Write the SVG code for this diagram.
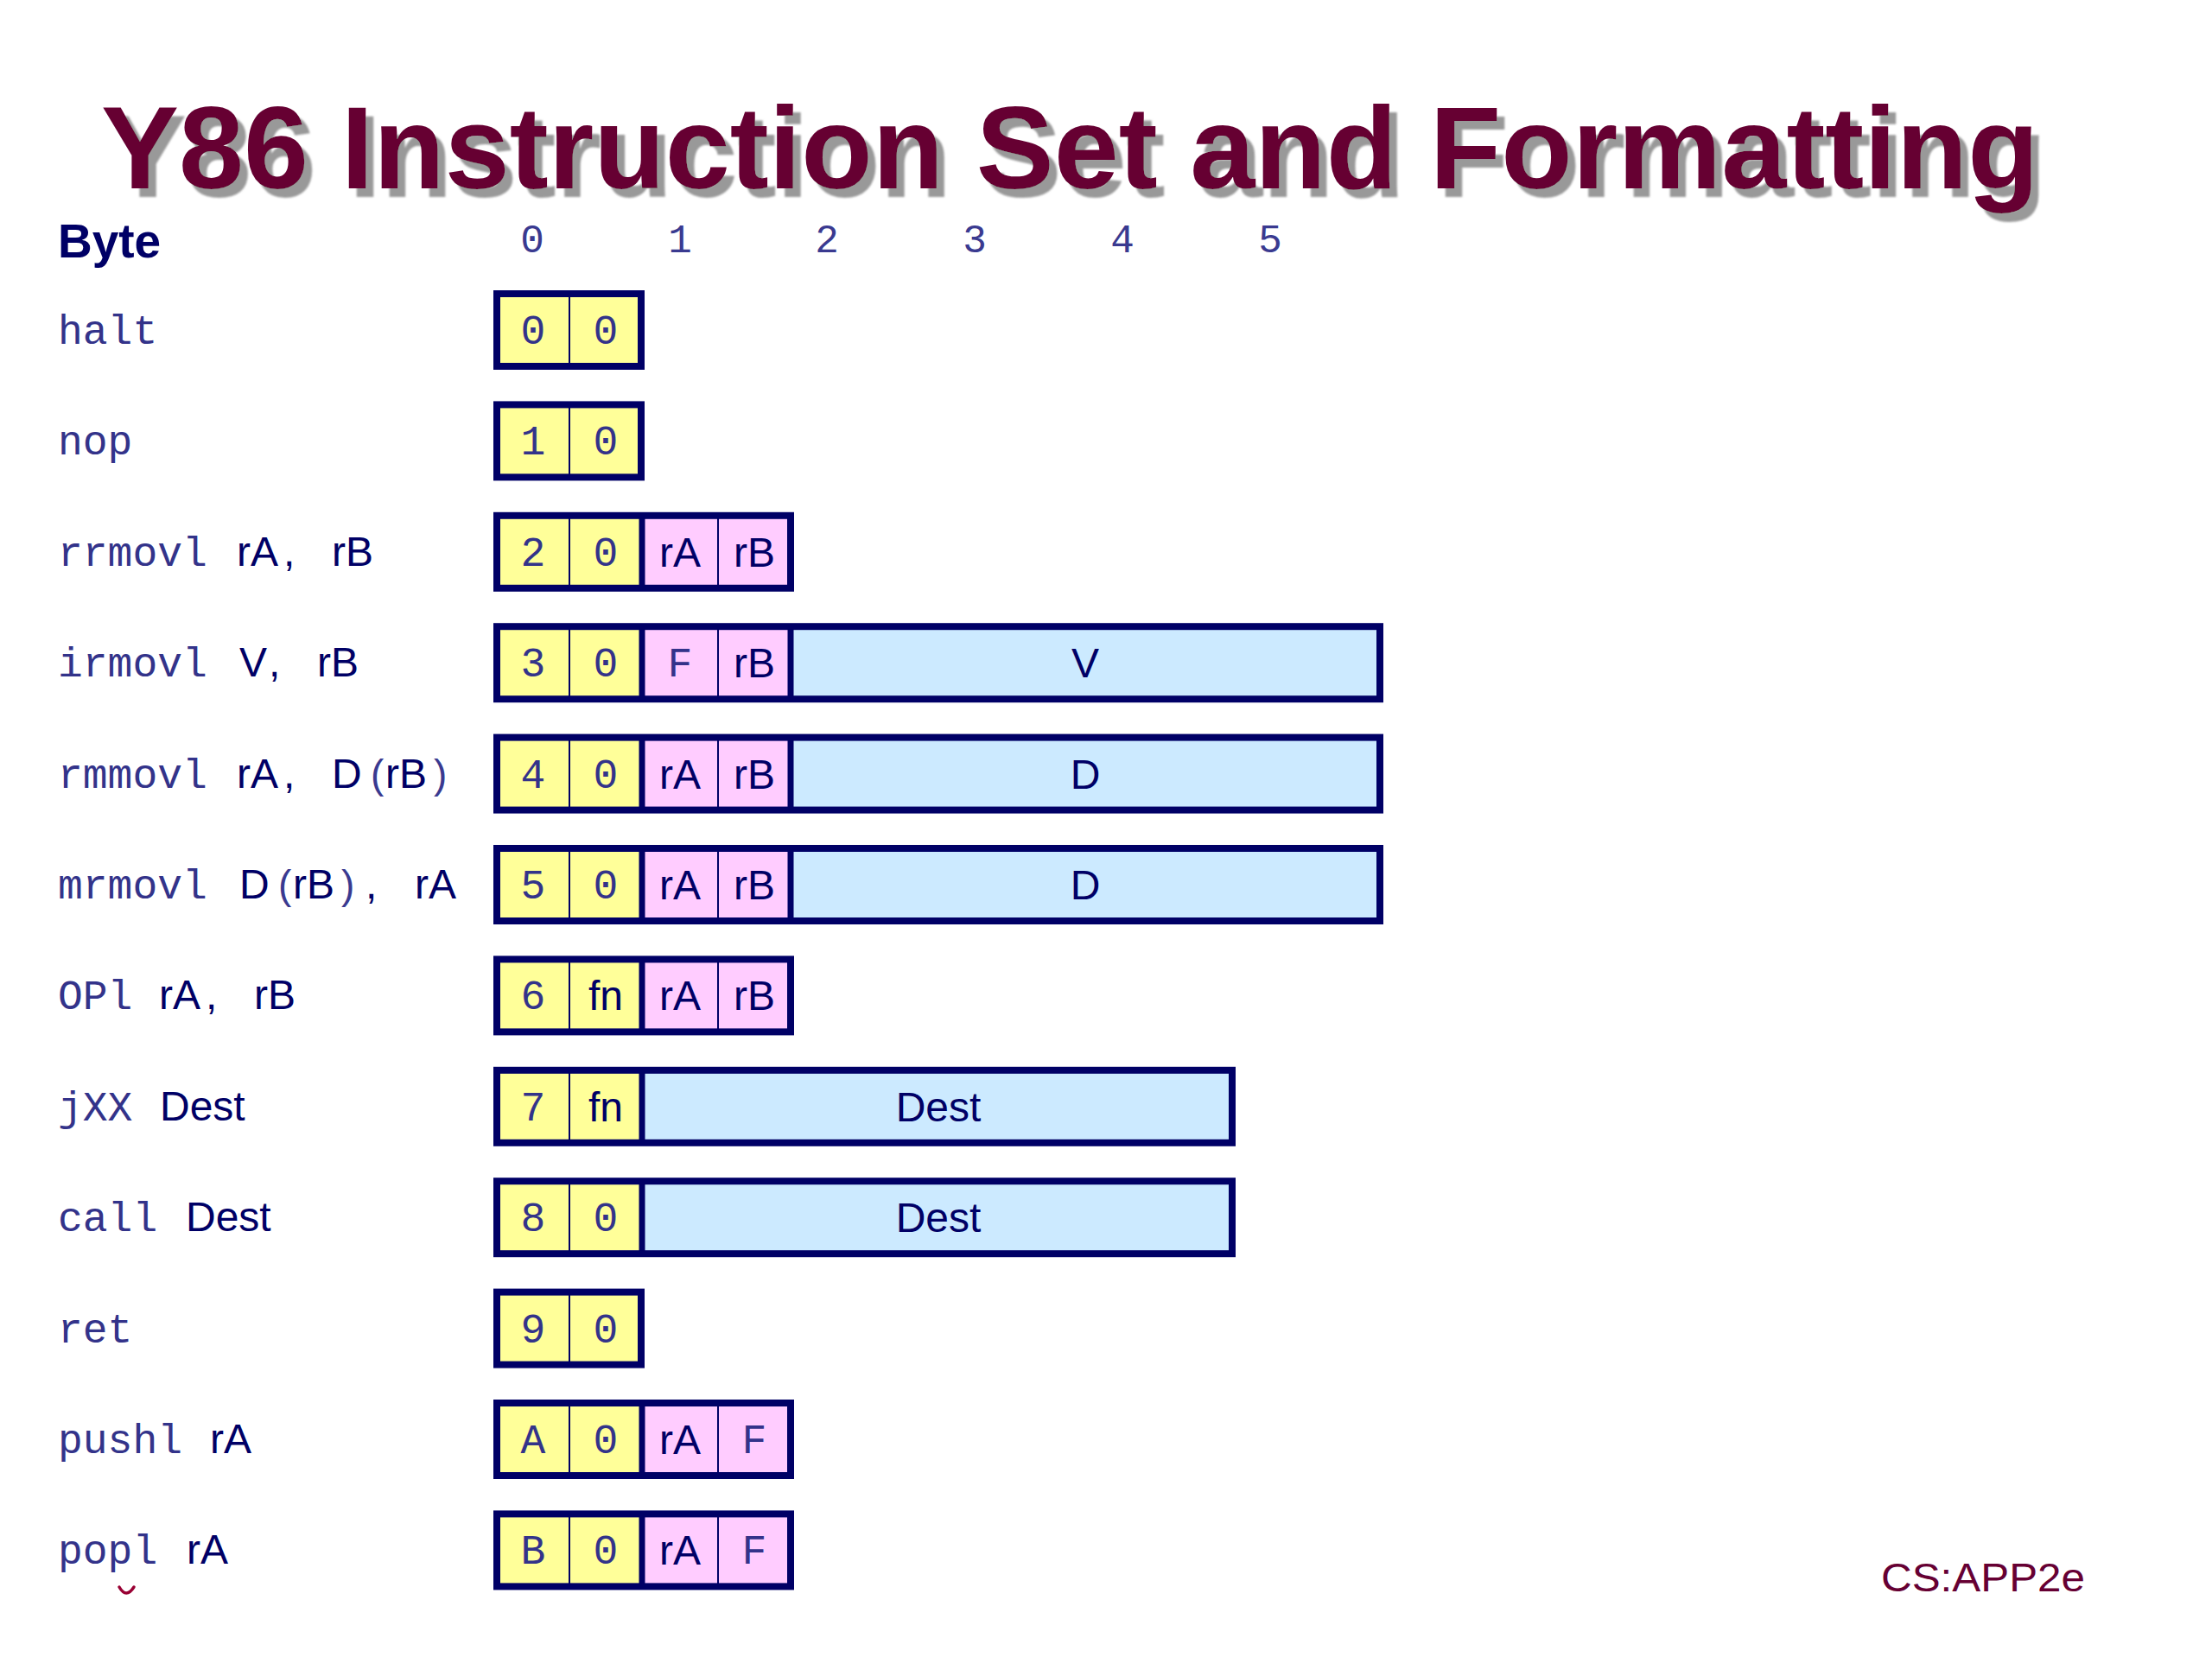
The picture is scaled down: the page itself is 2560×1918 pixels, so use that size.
<svg xmlns="http://www.w3.org/2000/svg" width="2560" height="1918" viewBox="0 0 2560 1918">
<defs>
<filter id="shadow" x="-5%" y="-20%" width="110%" height="150%">
<feDropShadow dx="9" dy="10" stdDeviation="1.2" flood-color="#999999" flood-opacity="1"/>
</filter>
<style>
.title{font-family:"Liberation Sans",Arial,sans-serif;font-weight:bold;font-size:135px;fill:#660033}
.byte{font-family:"Liberation Sans",Arial,sans-serif;font-weight:bold;font-size:55px;fill:#000066}
.mono{font-family:"Liberation Mono","Courier New",monospace;font-size:48px;fill:#33338a}
.hdr{font-family:"Liberation Mono","Courier New",monospace;font-size:46px;fill:#3a3a90;text-anchor:middle}
.sans{font-family:"Liberation Sans",Arial,sans-serif;font-size:48px;fill:#000066}
.par{font-family:"Liberation Sans",Arial,sans-serif;font-size:46px;fill:#3a3a90}
.c{text-anchor:middle}
.frame{fill:none;stroke:#000066;stroke-width:8}
.thick{stroke:#000066;stroke-width:7}
.thin{stroke:#000066;stroke-width:2}
.y{fill:#ffff99}
.p{fill:#ffccff}
.b{fill:#cceaff}
.foot{font-family:"Liberation Sans",Arial,sans-serif;font-size:46px;fill:#660033}
</style>
</defs>
<rect width="2560" height="1918" fill="#ffffff"/>

<g id="title">
<text class="title" x="117" y="218" filter="url(#shadow)">Y86 Instruction Set and Formatting</text>
</g>

<g id="header">
<text class="byte" x="67" y="298">Byte</text>
<text class="hdr" x="616" y="292">0</text>
<text class="hdr" x="787" y="292">1</text>
<text class="hdr" x="957" y="292">2</text>
<text class="hdr" x="1128" y="292">3</text>
<text class="hdr" x="1299" y="292">4</text>
<text class="hdr" x="1470" y="292">5</text>
</g>

<g id="connectors"></g>

<!-- row 0: halt -->
<g id="halt" transform="translate(0,336)">
<text class="mono" x="67" y="62">halt</text>
<rect class="y" x="575" y="4" width="168" height="84"/>
<line class="thin" x1="659" y1="4" x2="659" y2="88"/>
<rect class="frame" x="575" y="4" width="167" height="84"/>
<text class="mono c" x="617" y="62">0</text>
<text class="mono c" x="701" y="62">0</text>
</g>

<!-- row 1: nop -->
<g id="nop" transform="translate(0,464.4)">
<text class="mono" x="67" y="62">nop</text>
<rect class="y" x="575" y="4" width="168" height="84"/>
<line class="thin" x1="659" y1="4" x2="659" y2="88"/>
<rect class="frame" x="575" y="4" width="167" height="84"/>
<text class="mono c" x="617" y="62">1</text>
<text class="mono c" x="701" y="62">0</text>
</g>

<!-- row 2: rrmovl -->
<g id="rrmovl" transform="translate(0,592.8)">
<text y="62"><tspan class="mono" x="67">rrmovl</tspan><tspan class="sans" x="274">rA</tspan><tspan class="sans" x="328">,</tspan><tspan class="sans" x="384">rB</tspan></text>
<rect class="y" x="575" y="4" width="168" height="84"/>
<rect class="p" x="743" y="4" width="172" height="84"/>
<line class="thin" x1="659" y1="4" x2="659" y2="88"/>
<line class="thin" x1="831" y1="4" x2="831" y2="88"/>
<line class="thick" x1="743" y1="4" x2="743" y2="88"/>
<rect class="frame" x="575" y="4" width="340" height="84"/>
<text class="mono c" x="617" y="62">2</text>
<text class="mono c" x="701" y="62">0</text>
<text class="sans c" x="787" y="63">rA</text>
<text class="sans c" x="873" y="63">rB</text>
</g>

<!-- row 3: irmovl -->
<g id="irmovl" transform="translate(0,721.2)">
<text y="62"><tspan class="mono" x="67">irmovl</tspan><tspan class="sans" x="277">V</tspan><tspan class="sans" x="311">,</tspan><tspan class="sans" x="367">rB</tspan></text>
<rect class="y" x="575" y="4" width="168" height="84"/>
<rect class="p" x="743" y="4" width="172" height="84"/>
<rect class="b" x="915" y="4" width="682" height="84"/>
<line class="thin" x1="659" y1="4" x2="659" y2="88"/>
<line class="thin" x1="831" y1="4" x2="831" y2="88"/>
<line class="thick" x1="743" y1="4" x2="743" y2="88"/>
<line class="thick" x1="915" y1="4" x2="915" y2="88"/>
<rect class="frame" x="575" y="4" width="1022" height="84"/>
<text class="mono c" x="617" y="62">3</text>
<text class="mono c" x="701" y="62">0</text>
<text class="mono c" x="787" y="62">F</text>
<text class="sans c" x="873" y="63">rB</text>
<text class="sans c" x="1256" y="63">V</text>
</g>

<!-- row 4: rmmovl -->
<g id="rmmovl" transform="translate(0,849.6)">
<text y="62"><tspan class="mono" x="67">rmmovl</tspan><tspan class="sans" x="274">rA</tspan><tspan class="sans" x="328">,</tspan><tspan class="sans" x="384">D</tspan><tspan class="par" x="429">(</tspan><tspan class="sans" x="446">rB</tspan><tspan class="par" x="502">)</tspan></text>
<rect class="y" x="575" y="4" width="168" height="84"/>
<rect class="p" x="743" y="4" width="172" height="84"/>
<rect class="b" x="915" y="4" width="682" height="84"/>
<line class="thin" x1="659" y1="4" x2="659" y2="88"/>
<line class="thin" x1="831" y1="4" x2="831" y2="88"/>
<line class="thick" x1="743" y1="4" x2="743" y2="88"/>
<line class="thick" x1="915" y1="4" x2="915" y2="88"/>
<rect class="frame" x="575" y="4" width="1022" height="84"/>
<text class="mono c" x="617" y="62">4</text>
<text class="mono c" x="701" y="62">0</text>
<text class="sans c" x="787" y="63">rA</text>
<text class="sans c" x="873" y="63">rB</text>
<text class="sans c" x="1256" y="63">D</text>
</g>

<!-- row 5: mrmovl -->
<g id="mrmovl" transform="translate(0,978)">
<text y="62"><tspan class="mono" x="67">mrmovl</tspan><tspan class="sans" x="277">D</tspan><tspan class="par" x="322">(</tspan><tspan class="sans" x="339">rB</tspan><tspan class="par" x="395">)</tspan><tspan class="sans" x="423">,</tspan><tspan class="sans" x="480">rA</tspan></text>
<rect class="y" x="575" y="4" width="168" height="84"/>
<rect class="p" x="743" y="4" width="172" height="84"/>
<rect class="b" x="915" y="4" width="682" height="84"/>
<line class="thin" x1="659" y1="4" x2="659" y2="88"/>
<line class="thin" x1="831" y1="4" x2="831" y2="88"/>
<line class="thick" x1="743" y1="4" x2="743" y2="88"/>
<line class="thick" x1="915" y1="4" x2="915" y2="88"/>
<rect class="frame" x="575" y="4" width="1022" height="84"/>
<text class="mono c" x="617" y="62">5</text>
<text class="mono c" x="701" y="62">0</text>
<text class="sans c" x="787" y="63">rA</text>
<text class="sans c" x="873" y="63">rB</text>
<text class="sans c" x="1256" y="63">D</text>
</g>

<!-- row 6: OPl -->
<g id="OPl" transform="translate(0,1106.4)">
<text y="62"><tspan class="mono" x="67">OPl</tspan><tspan class="sans" x="184">rA</tspan><tspan class="sans" x="238">,</tspan><tspan class="sans" x="294">rB</tspan></text>
<rect class="y" x="575" y="4" width="168" height="84"/>
<rect class="p" x="743" y="4" width="172" height="84"/>
<line class="thin" x1="659" y1="4" x2="659" y2="88"/>
<line class="thin" x1="831" y1="4" x2="831" y2="88"/>
<line class="thick" x1="743" y1="4" x2="743" y2="88"/>
<rect class="frame" x="575" y="4" width="340" height="84"/>
<text class="mono c" x="617" y="62">6</text>
<text class="sans c" x="701" y="63">fn</text>
<text class="sans c" x="787" y="63">rA</text>
<text class="sans c" x="873" y="63">rB</text>
</g>

<!-- row 7: jXX -->
<g id="jXX" transform="translate(0,1234.8)">
<text y="62"><tspan class="mono" x="67">jXX</tspan><tspan class="sans" x="185">Dest</tspan></text>
<rect class="y" x="575" y="4" width="168" height="84"/>
<rect class="b" x="743" y="4" width="683" height="84"/>
<line class="thin" x1="659" y1="4" x2="659" y2="88"/>
<line class="thick" x1="743" y1="4" x2="743" y2="88"/>
<rect class="frame" x="575" y="4" width="851" height="84"/>
<text class="mono c" x="617" y="62">7</text>
<text class="sans c" x="701" y="63">fn</text>
<text class="sans c" x="1086" y="63">Dest</text>
</g>

<!-- row 8: call -->
<g id="call" transform="translate(0,1363.2)">
<text y="62"><tspan class="mono" x="67">call</tspan><tspan class="sans" x="215">Dest</tspan></text>
<rect class="y" x="575" y="4" width="168" height="84"/>
<rect class="b" x="743" y="4" width="683" height="84"/>
<line class="thin" x1="659" y1="4" x2="659" y2="88"/>
<line class="thick" x1="743" y1="4" x2="743" y2="88"/>
<rect class="frame" x="575" y="4" width="851" height="84"/>
<text class="mono c" x="617" y="62">8</text>
<text class="mono c" x="701" y="62">0</text>
<text class="sans c" x="1086" y="63">Dest</text>
</g>

<!-- row 9: ret -->
<g id="ret" transform="translate(0,1491.6)">
<text class="mono" x="67" y="62">ret</text>
<rect class="y" x="575" y="4" width="168" height="84"/>
<line class="thin" x1="659" y1="4" x2="659" y2="88"/>
<rect class="frame" x="575" y="4" width="167" height="84"/>
<text class="mono c" x="617" y="62">9</text>
<text class="mono c" x="701" y="62">0</text>
</g>

<!-- row 10: pushl -->
<g id="pushl" transform="translate(0,1620)">
<text y="62"><tspan class="mono" x="67">pushl</tspan><tspan class="sans" x="243">rA</tspan></text>
<rect class="y" x="575" y="4" width="168" height="84"/>
<rect class="p" x="743" y="4" width="172" height="84"/>
<line class="thin" x1="659" y1="4" x2="659" y2="88"/>
<line class="thin" x1="831" y1="4" x2="831" y2="88"/>
<line class="thick" x1="743" y1="4" x2="743" y2="88"/>
<rect class="frame" x="575" y="4" width="340" height="84"/>
<text class="mono c" x="617" y="62">A</text>
<text class="mono c" x="701" y="62">0</text>
<text class="sans c" x="787" y="63">rA</text>
<text class="mono c" x="873" y="62">F</text>
</g>

<!-- row 11: popl -->
<g id="popl" transform="translate(0,1748.4)">
<text y="62"><tspan class="mono" x="67">popl</tspan><tspan class="sans" x="216">rA</tspan></text>
<rect class="y" x="575" y="4" width="168" height="84"/>
<rect class="p" x="743" y="4" width="172" height="84"/>
<line class="thin" x1="659" y1="4" x2="659" y2="88"/>
<line class="thin" x1="831" y1="4" x2="831" y2="88"/>
<line class="thick" x1="743" y1="4" x2="743" y2="88"/>
<rect class="frame" x="575" y="4" width="340" height="84"/>
<text class="mono c" x="617" y="62">B</text>
<text class="mono c" x="701" y="62">0</text>
<text class="sans c" x="787" y="63">rA</text>
<text class="mono c" x="873" y="62">F</text>
<path d="M138,88.6 Q146,102.6 155,88.6" fill="none" stroke="#990033" stroke-width="3.5" stroke-linecap="round"/>
</g>

<g id="footer">
<text class="foot" x="2177" y="1842" textLength="236" lengthAdjust="spacingAndGlyphs">CS:APP2e</text>
</g>
</svg>
